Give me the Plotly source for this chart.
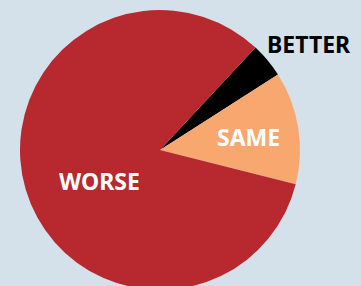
import plotly.graph_objects as go

labels = ["BETTER", "SAME", "WORSE"]
values = [4, 13, 83]
colors = ["#000000", "#f8a86f", "#b8292f"]
text_colors = ["#000000", "#ffffff", "#ffffff"]

W, H = 361, 300
cx, cy, r = 160, 150, 140

fig = go.Figure(go.Pie(
    labels=labels,
    values=values,
    sort=False,
    direction="clockwise",
    rotation=43,
    marker=dict(colors=colors, line=dict(width=0)),
    textinfo="none",
    showlegend=False,
    hoverinfo="label+percent",
    domain=dict(x=[(cx - r) / W, (cx + r) / W], y=[(H - cy - r) / H, (H - cy + r) / H]),
))

# label placement (pixel from top-left), anchors
label_pos = {
    "BETTER": (265, 44, "left"),
    "SAME": (248, 137, "center"),
    "WORSE": (99, 181, "center"),
}
for lab, col in zip(labels, text_colors):
    px, py, anchor = label_pos[lab]
    fig.add_annotation(
        text=lab, x=px / W, y=(H - py) / H, xref="paper", yref="paper",
        xanchor=anchor, yanchor="middle", showarrow=False,
        font=dict(family="Noto Sans", size=23, color=col, weight="bold"),
    )

fig.update_layout(
    width=W, height=H,
    margin=dict(l=0, r=0, t=0, b=0),
    paper_bgcolor="#d5e1ea",
    plot_bgcolor="#d5e1ea",
)

fig.write_html("out.html", config={"displayModeBar": False},
               post_script="document.body.style.margin='0';document.body.style.overflow='hidden';")
